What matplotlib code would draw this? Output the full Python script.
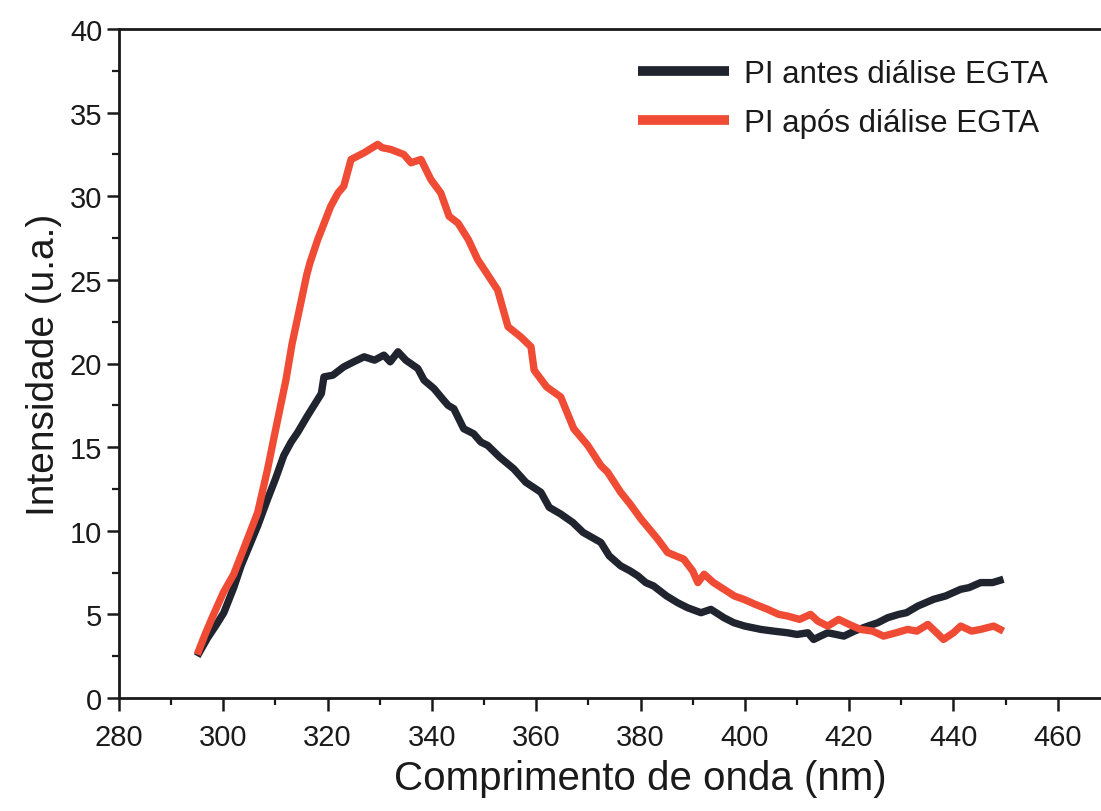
import matplotlib
matplotlib.use("Agg")
import matplotlib.pyplot as plt
from matplotlib.ticker import MultipleLocator, FixedLocator

plt.rcParams['font.family'] = ['Liberation Sans', 'DejaVu Sans']

# Wavelength (nm) and intensity (u.a.) - PI após diálise EGTA (red)
x_after = [295.0, 296.5, 298.0, 300.0, 302.0, 304.0, 306.6, 308.5, 310.0, 312.0,
           313.2, 314.3, 316.0, 316.6, 318.1, 320.6, 322.0, 323.1, 324.5, 327.0,
           329.6, 330.5, 332.1, 334.6, 336.0, 337.9, 339.8, 341.7, 343.3, 345.0,
           347.0, 348.8, 350.5, 352.6, 354.6, 357.0, 359.0, 359.6, 362.0, 364.7,
           367.2, 369.9, 372.4, 373.7, 376.2, 378.0, 380.1, 383.3, 385.2, 388.3,
           390.0, 391.0, 392.2, 394.0, 396.0, 398.0, 399.8, 402.0, 404.4, 406.5,
           408.2, 410.5, 412.6, 414.0, 415.9, 418.0, 420.0, 422.2, 424.5, 426.6,
           429.0, 431.2, 433.0, 435.1, 436.8, 438.1, 440.0, 441.4, 443.5, 445.2,
           447.7, 449.6]
y_after = [2.6, 3.8, 4.9, 6.3, 7.4, 9.0, 11.1, 13.7, 16.0, 19.0,
           21.2, 22.8, 25.3, 26.0, 27.4, 29.4, 30.2, 30.6, 32.2, 32.6,
           33.1, 32.9, 32.8, 32.5, 32.0, 32.2, 31.0, 30.2, 28.8, 28.4,
           27.4, 26.2, 25.4, 24.4, 22.2, 21.6, 21.0, 19.6, 18.6, 18.0,
           16.1, 15.1, 13.9, 13.5, 12.3, 11.6, 10.7, 9.5, 8.7, 8.3,
           7.6, 6.9, 7.4, 6.9, 6.5, 6.1, 5.9, 5.6, 5.3, 5.0,
           4.9, 4.7, 5.0, 4.6, 4.3, 4.7, 4.4, 4.1, 4.0, 3.7,
           3.9, 4.1, 4.0, 4.4, 3.9, 3.5, 3.9, 4.3, 4.0, 4.1,
           4.3, 4.0]

# PI antes diálise EGTA (black)
x_before = [295.0, 297.0, 298.5, 300.1, 302.0, 303.4, 305.0, 306.6, 308.5, 310.0,
            311.6, 313.0, 314.3, 316.0, 317.4, 318.8, 319.3, 321.0, 323.1, 325.0,
            327.0, 329.0, 330.8, 332.0, 333.5, 335.0, 337.3, 338.5, 340.4, 342.0,
            343.1, 344.2, 346.1, 348.0, 349.4, 350.7, 353.0, 355.7, 358.0, 360.9,
            362.5, 364.7, 367.0, 369.0, 372.4, 374.0, 376.2, 378.0, 379.5, 381.0,
            382.5, 385.0, 387.1, 389.0, 391.6, 393.5, 396.0, 397.9, 400.0, 403.1,
            405.5, 408.2, 410.0, 412.1, 413.2, 414.5, 415.9, 417.5, 419.0, 421.0,
            423.6, 425.5, 427.4, 429.5, 431.0, 433.2, 436.2, 438.5, 441.4, 443.0,
            445.2, 447.5, 449.6]
y_before = [2.5, 3.6, 4.3, 5.1, 6.6, 7.9, 9.1, 10.3, 11.9, 13.1,
            14.5, 15.3, 15.9, 16.8, 17.5, 18.2, 19.2, 19.3, 19.8, 20.1,
            20.4, 20.2, 20.5, 20.1, 20.7, 20.2, 19.7, 19.0, 18.5, 17.9,
            17.5, 17.3, 16.1, 15.8, 15.3, 15.1, 14.4, 13.7, 12.9, 12.3,
            11.4, 11.0, 10.5, 9.9, 9.3, 8.5, 7.9, 7.6, 7.3, 6.9,
            6.7, 6.1, 5.7, 5.4, 5.1, 5.3, 4.8, 4.5, 4.3, 4.1,
            4.0, 3.9, 3.8, 3.9, 3.5, 3.7, 3.9, 3.8, 3.7, 4.0,
            4.3, 4.5, 4.8, 5.0, 5.1, 5.5, 5.9, 6.1, 6.5, 6.6,
            6.9, 6.9, 7.1]

x_major = [280, 300, 320, 340, 360, 380, 400, 420, 440, 460]
x_minor = [290, 310, 330, 350, 370, 390, 410, 430, 450, 470]

label_before = "PI antes diálise EGTA"
label_after = "PI após diálise EGTA"

W, H = 1101, 812
fig = plt.figure(figsize=(W / 100, H / 100), dpi=100)
ax = fig.add_axes([119 / W, 113 / H, 1043 / W, 669 / H])

c_black = '#20242f'
c_red = '#ef4b35'

ax.plot(x_before, y_before, color=c_black, lw=5.3, solid_joinstyle='round',
        solid_capstyle='butt', label=label_before, zorder=2)
ax.plot(x_after, y_after, color=c_red, lw=5.3, solid_joinstyle='round',
        solid_capstyle='butt', label=label_after, zorder=3)

ax.set_xlim(280, 480)
ax.set_ylim(0, 40)
ax.xaxis.set_major_locator(FixedLocator(x_major))
ax.xaxis.set_minor_locator(FixedLocator(x_minor))
ax.yaxis.set_major_locator(MultipleLocator(5))
ax.yaxis.set_minor_locator(MultipleLocator(2.5))

for s in ax.spines.values():
    s.set_linewidth(2)
    s.set_color('#1a1a1a')
ax.spines['right'].set_visible(False)

ax.tick_params(axis='both', which='major', direction='out', length=9, width=1.8,
               labelsize=21, color='#1a1a1a', labelcolor='#1a1a1a')
ax.tick_params(axis='both', which='minor', direction='out', length=5, width=1.6,
               color='#1a1a1a')
ax.tick_params(axis='x', which='major', pad=9)
ax.tick_params(axis='y', which='major', pad=3)

ax.set_xlabel("Comprimento de onda (nm)", fontsize=29, color='#1a1a1a', labelpad=6)
ax.set_ylabel("Intensidade (u.a.)", fontsize=28, color='#1a1a1a', labelpad=6)

leg = ax.legend(loc='upper left', bbox_to_anchor=(638 / W, 1 - 60 / H),
                bbox_transform=fig.transFigure, frameon=False, fontsize=22.5,
                handlelength=2.9, handletextpad=0.5, labelspacing=0.6,
                borderpad=0, borderaxespad=0)
for t in leg.get_texts():
    t.set_color('#1a1a1a')
for h in leg.get_lines():
    h.set_linewidth(7)

fig.savefig("out.png", dpi=100)
